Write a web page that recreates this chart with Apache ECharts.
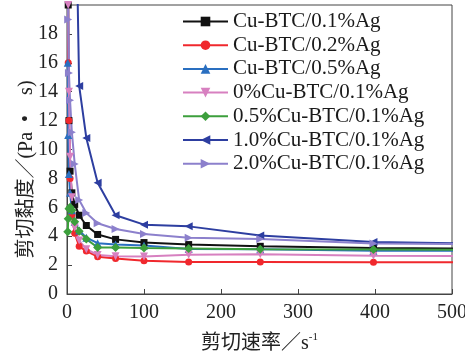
<!DOCTYPE html>
<html>
<head>
<meta charset="utf-8">
<script src="https://cdn.jsdelivr.net/npm/echarts@6/dist/echarts.min.js"></script>
<style>html,body{margin:0;padding:0;background:#fff;}#c{width:465px;height:356px;}</style>
</head>
<body>
<div id="c"></div>
<script>
// shear rate (s^-1)
const shearRate = [1, 1.58, 2.51, 3.98, 6.31, 10, 15.8, 25.1, 39.8, 63.1, 100, 158, 251, 398, 631];
const seriesNames = ['Cu-BTC/0.1%Ag', 'Cu-BTC/0.2%Ag', 'Cu-BTC/0.5%Ag', '0%Cu-BTC/0.1%Ag', '0.5%Cu-BTC/0.1%Ag', '1.0%Cu-BTC/0.1%Ag', '2.0%Cu-BTC/0.1%Ag'];
const cuBtc01Ag   = [30, 20, 12, 8.5, 7.0, 6.2, 5.45, 4.74, 4.12, 3.78, 3.56, 3.42, 3.30, 3.18, 3.10];
const cuBtc02Ag   = [30, 16, 12, 8.0, 5.5, 4.2, 3.30, 2.97, 2.58, 2.45, 2.30, 2.22, 2.22, 2.20, 2.20];
const cuBtc05Ag   = [16, 11, 8.3, 7.0, 5.8, 5.0, 4.40, 3.90, 3.52, 3.43, 3.35, 3.12, 3.10, 3.00, 3.00];
const cu0Ag01     = [30, 20, 14, 9.5, 6.7, 4.6, 3.70, 3.10, 2.70, 2.62, 2.60, 2.72, 2.75, 2.65, 2.60];
const cu05Ag01    = [4.3, 5.2, 5.9, 6.0, 5.8, 5.0, 4.34, 3.80, 3.22, 3.22, 3.18, 3.15, 3.10, 3.08, 3.05];
const cu10Ag01    = [80, 70, 60, 50, 40, 32, 14.4, 10.8, 7.7, 5.45, 4.80, 4.68, 4.05, 3.60, 3.40];
const cu20Ag01    = [25, 19, 15.3, 13.4, 11.2, 9.0, 6.5, 5.6, 4.9, 4.5, 4.15, 3.90, 3.80, 3.50, 3.40];
const yTicks = [0, 2, 4, 6, 8, 10, 12, 14, 16, 18];
const xTicks = [0, 100, 200, 300, 400, 500];

const valueSets = [cuBtc01Ag, cuBtc02Ag, cuBtc05Ag, cu0Ag01, cu05Ag01, cu10Ag01, cu20Ag01];
const colors = ['#111111', '#f0282d', '#2a6fc0', '#d780c0', '#3c9f3c', '#2d3ea0', '#8c80cc'];
const symbols = ['rect', 'circle', 'triangle', 'triangle', 'diamond', 'triangle', 'triangle'];
const rotates = [0, 0, 0, 180, 0, 90, -90];
const sizes = [7, 7, 8, 8, 9, 8, 8];

const serif = '"Liberation Serif", "DejaVu Serif", serif';
const cjk = '"Liberation Serif", "Noto Sans CJK SC", serif';

const chart = echarts.init(document.getElementById('c'), null, {renderer: 'canvas'});
chart.setOption({
  animation: false,
  backgroundColor: '#fff',
  grid: {left: 67, right: 13, top: 5, bottom: 62, show: true, borderColor: '#444', borderWidth: 1,
    containLabel: false, outerBoundsMode: 'none'},
  legend: {
    orient: 'vertical', left: 177, top: 6,
    itemWidth: 45, itemHeight: 12, itemGap: 2.7,
    textStyle: {fontFamily: serif, fontSize: 21, color: '#1a1a1a', lineHeight: 20},
    data: seriesNames
  },
  xAxis: {
    type: 'value', min: xTicks[0], max: xTicks[xTicks.length - 1], interval: 100,
    name: '{a|剪切速率／s}{b|-1}', nameLocation: 'middle', nameGap: 38, nameMoveOverlap: false,
    nameTextStyle: {rich: {a: {fontFamily: cjk, fontSize: 20, color: '#222'}, b: {fontFamily: serif, fontSize: 11, color: '#222', verticalAlign: 'top', padding: [0, 0, 12, 0]}}},
    axisLine: {show: true, lineStyle: {color: '#444', width: 1}},
    axisTick: {show: true, inside: true, length: 5, lineStyle: {color: '#444'}},
    axisLabel: {fontFamily: serif, fontSize: 20, color: '#222', margin: 9},
    splitLine: {show: false}
  },
  yAxis: {
    type: 'value', min: 0, max: 20, interval: 2,
    name: '剪切黏度／(Pa\u2002•\u2003s)', nameLocation: 'middle', nameGap: 30, nameMoveOverlap: false,
    nameTextStyle: {fontFamily: cjk, fontSize: 20, color: '#222', padding: [0, 0, 0, -40]},
    axisLine: {show: true, lineStyle: {color: '#444', width: 1}},
    axisTick: {show: true, inside: true, length: 5, lineStyle: {color: '#444'}},
    axisLabel: {fontFamily: serif, fontSize: 20, color: '#222', margin: 9, showMaxLabel: false,
      formatter: v => (yTicks.indexOf(v) >= 0 ? String(v) : '')},
    splitLine: {show: false}
  },
  series: seriesNames.map((n, i) => ({
    name: n, type: 'line', clip: true,
    data: shearRate.map((x, j) => [x, valueSets[i][j]]),
    symbol: symbols[i], symbolSize: sizes[i], symbolRotate: rotates[i],
    showAllSymbol: true,
    itemStyle: {color: colors[i]},
    lineStyle: {color: colors[i], width: 2}
  }))
});
</script>
</body>
</html>
